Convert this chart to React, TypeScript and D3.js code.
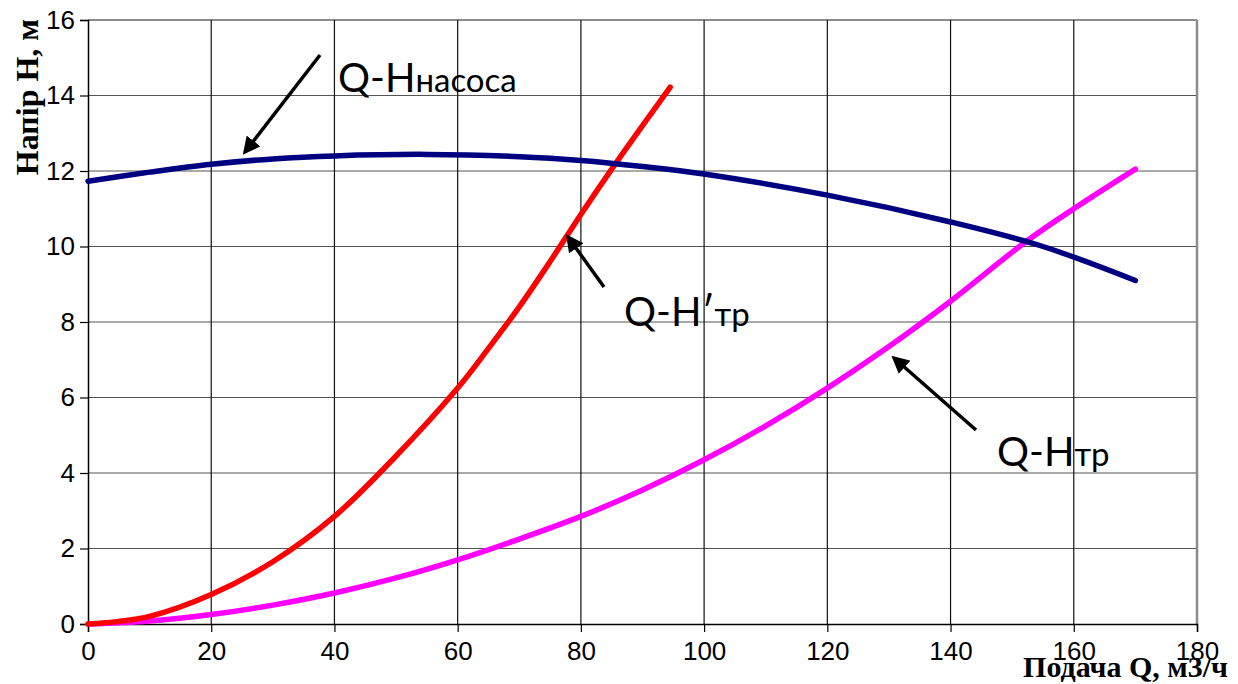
import React, { useEffect, useRef } from 'react';
import * as d3 from 'd3';

// Q, м3/ч
const pumpQ = [0, 10, 20, 30, 40, 55, 70, 80, 90, 100, 120, 140, 155, 170];
const pumpH = [11.73, 11.97, 12.18, 12.32, 12.4, 12.44, 12.38, 12.28, 12.12, 11.92, 11.36, 10.65, 10.0, 9.1];

const netQ2 = [0, 5, 10, 20, 30, 40, 50, 60, 65, 70, 75, 80, 85, 90, 94.5];
const netH2 = [0, 0.07, 0.2, 0.78, 1.65, 2.85, 4.45, 6.25, 7.3, 8.4, 9.6, 10.85, 12.05, 13.2, 14.22];

const netQ = [0, 10, 20, 30, 40, 50, 60, 70, 80, 90, 100, 110, 120, 130, 140, 152, 160, 170];
const netH = [0, 0.08, 0.25, 0.5, 0.82, 1.22, 1.7, 2.25, 2.85, 3.55, 4.35, 5.25, 6.25, 7.35, 8.55, 10.1, 11.0, 12.05];

const xTicks = [0, 20, 40, 60, 80, 100, 120, 140, 160, 180];
const yTicks = [0, 2, 4, 6, 8, 10, 12, 14, 16];

const W = 1238;
const H = 684;
const margin = { top: 20, right: 41, bottom: 60, left: 88 };

const App: React.FC = () => {
  const svgRef = useRef<SVGSVGElement>(null);

  useEffect(() => {
    if (!svgRef.current) return;
    const svg = d3.select(svgRef.current);
    svg.selectAll('*').remove();

    const x = d3.scaleLinear().domain([0, 180]).range([margin.left, W - margin.right]);
    const y = d3.scaleLinear().domain([0, 16]).range([H - margin.bottom, margin.top]);

    // grid
    svg.append('g').selectAll('line').data(yTicks.slice(1)).enter().append('line')
      .attr('x1', x(0)).attr('x2', x(180))
      .attr('y1', d => y(d)).attr('y2', d => y(d))
      .attr('stroke', d => (d === 16 ? '#8c8c8c' : '#555'))
      .attr('stroke-width', d => (d === 16 ? 2 : 1.2));
    svg.append('g').selectAll('line').data(xTicks.slice(1)).enter().append('line')
      .attr('x1', d => x(d)).attr('x2', d => x(d))
      .attr('y1', y(0)).attr('y2', y(16))
      .attr('stroke', d => (d === 180 ? '#8c8c8c' : '#111'))
      .attr('stroke-width', d => (d === 180 ? 2.5 : 1.2));

    // axes
    const xAxis = d3.axisBottom(x).tickValues(xTicks).tickSize(8).tickFormat(d => String(d));
    const yAxis = d3.axisLeft(y).tickValues(yTicks).tickSize(8).tickFormat(d => String(d));
    const gx = svg.append('g').attr('transform', `translate(0,${y(0)})`).call(xAxis);
    const gy = svg.append('g').attr('transform', `translate(${x(0)},0)`).call(yAxis);
    [gx, gy].forEach(g => {
      g.select('.domain').attr('stroke', '#000').attr('stroke-width', 1.5);
      g.selectAll('.tick line').attr('stroke', '#000').attr('stroke-width', 1.2);
      g.selectAll('.tick text')
        .attr('font-family', '"Liberation Sans", Arial, sans-serif')
        .attr('font-size', 26)
        .attr('fill', '#000');
    });
    gx.selectAll('.tick text').attr('dy', '0.95em');
    gy.selectAll('.tick text').attr('x', -13);

    // curves
    const line = d3.line<[number, number]>()
      .x(d => x(d[0])).y(d => y(d[1]))
      .curve(d3.curveCatmullRom.alpha(0.5));
    const series = [
      { q: netQ, h: netH, color: '#ff00ff' },
      { q: netQ2, h: netH2, color: '#ff0000' },
      { q: pumpQ, h: pumpH, color: '#000080' },
    ];
    series.forEach(s => {
      svg.append('path')
        .datum(s.q.map((q, i) => [q, s.h[i]] as [number, number]))
        .attr('d', line)
        .attr('fill', 'none')
        .attr('stroke', s.color)
        .attr('stroke-width', 5.5)
        .attr('stroke-linecap', 'round');
    });

    // arrows
    const defs = svg.append('defs');
    defs.append('marker')
      .attr('id', 'arrow')
      .attr('viewBox', '0 0 10 10')
      .attr('refX', 8).attr('refY', 5)
      .attr('markerWidth', 5).attr('markerHeight', 5)
      .attr('orient', 'auto')
      .append('path').attr('d', 'M0,0 L10,5 L0,10 Z').attr('fill', '#000');

    const arrows = [
      [[320, 55], [245, 152]],
      [[604, 287], [568, 237]],
      [[976, 430], [894, 358]],
    ];
    arrows.forEach(a => {
      svg.append('line')
        .attr('x1', a[0][0]).attr('y1', a[0][1])
        .attr('x2', a[1][0]).attr('y2', a[1][1])
        .attr('stroke', '#000').attr('stroke-width', 3.5)
        .attr('marker-end', 'url(#arrow)');
    });

    // labels
    const labels = [
      { x: 338, y: 92, main: 'Q-H', sub: 'насоса' },
      { x: 624, y: 326, main: 'Q-H′', sub: 'тр' },
      { x: 997, y: 466, main: 'Q-H', sub: 'тр' },
    ];
    labels.forEach(l => {
      const t = svg.append('text')
        .attr('x', l.x).attr('y', l.y)
        .attr('font-family', 'Lato, "Open Sans", sans-serif')
        .attr('fill', '#000');
      t.append('tspan').attr('font-size', 40).text(l.main);
      t.append('tspan').attr('font-size', 33).text(l.sub);
    });

    // axis titles
    svg.append('text')
      .attr('transform', `translate(38,97) rotate(-90)`)
      .attr('text-anchor', 'middle')
      .attr('font-family', '"Liberation Serif", "Times New Roman", serif')
      .attr('font-weight', 'bold')
      .attr('font-size', 32)
      .attr('fill', '#000')
      .text('Напір Н, м');

    svg.append('text')
      .attr('x', 1228).attr('y', 677)
      .attr('text-anchor', 'end')
      .attr('font-family', '"Liberation Serif", "Times New Roman", serif')
      .attr('font-weight', 'bold')
      .attr('font-size', 30)
      .attr('fill', '#000')
      .text('Подача Q, м3/ч');
  }, []);

  return (
    <div style={{ position: 'absolute', left: 0, top: 0, background: '#fff' }}>
      <svg ref={svgRef} width={W} height={H} style={{ display: 'block' }} />
    </div>
  );
};

export default App;
